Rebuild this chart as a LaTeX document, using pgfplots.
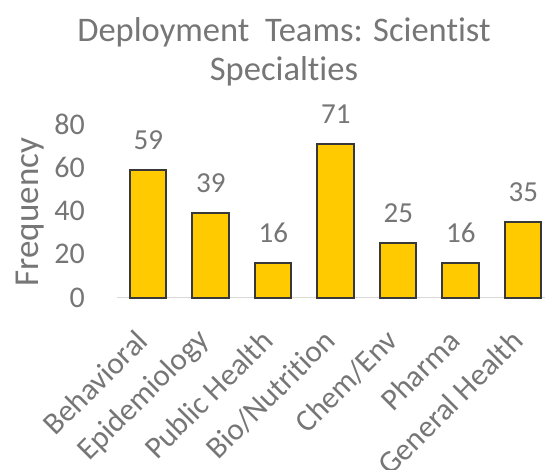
\documentclass[border=0pt]{standalone}
\usepackage{pgfplots}
\pgfplotsset{compat=1.18}
\usepackage{fontspec}
\setmainfont{Carlito}[Ligatures=NoCommon]
\definecolor{txtgray}{RGB}{118,118,118}
\definecolor{bargold}{RGB}{255,202,0}
\definecolor{baroutline}{RGB}{56,56,56}
\definecolor{basegray}{RGB}{217,217,217}
\begin{document}
\begin{tikzpicture}
\useasboundingbox (-117bp,-172.5bp) rectangle (428bp,297.5bp);
\begin{axis}[
  at={(0,0)}, anchor=south west,
  scale only axis,
  width=437.5bp, height=173bp,
  xmin=-0.5, xmax=6.5,
  ymin=0, ymax=80,
  ytick={0,20,40,60,80},
  xtick=data,
  xticklabels={Behavioral,Epidemiology,Public Health,Bio/Nutrition,Chem/Env,Pharma,General Health},
  axis line style={draw=none},
  major tick length=0pt,
  tick style={draw=none},
  ticklabel style={font=\fontsize{30bp}{34bp}\selectfont, text=txtgray},
  /pgf/number format/assume math mode=true,
  yticklabel style={anchor=east, inner sep=0pt, xshift=-32bp},
  xticklabel style={font=\fontsize{31bp}{34bp}\selectfont, xshift=-6bp, yshift=-38bp, rotate=45, anchor=east, inner sep=0pt},
  ylabel={Frequency},
  ylabel style={font=\fontsize{35bp}{38bp}\selectfont, text=txtgray, at={(axis description cs:-0.199,0.494)}, anchor=center},
  ybar, bar width=36.5bp,
  nodes near coords,
  nodes near coords style={font=\fontsize{29bp}{32bp}\selectfont, text=txtgray, anchor=base, yshift=20.5bp},
  clip=false,
]
\draw[basegray, line width=1.2bp] (axis cs:-0.5,0) -- (axis cs:6.5,0);
\addplot[fill=bargold, draw=baroutline, line width=2bp] coordinates {(0,59) (1,39) (2,16) (3,71) (4,25) (5,16) (6,35)};
\end{axis}
\node[align=center, text=txtgray, font=\fontsize{34.5bp}{39bp}\selectfont] at (167bp,245.5bp) {Deployment\ \ Teams: Scientist\\Specialties};
\end{tikzpicture}
\end{document}
